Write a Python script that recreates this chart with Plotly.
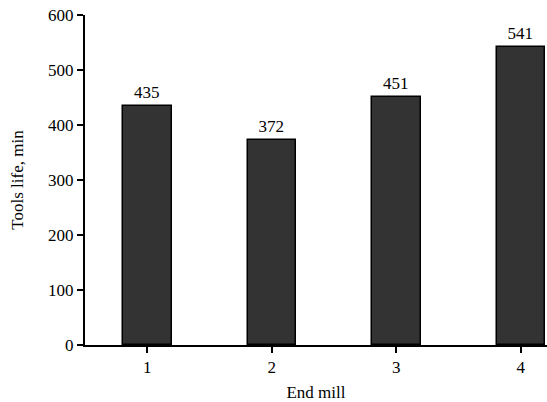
import plotly.graph_objects as go

categories = [1, 2, 3, 4]
tool_life = [435, 372, 451, 541]
value_labels = ["435", "372", "451", "541"]

FONT = "Liberation Serif, Times New Roman, serif"

fig = go.Figure()
fig.add_trace(go.Bar(
    x=categories, y=tool_life, width=0.39,
    marker=dict(color="#333333", line=dict(color="black", width=1.5)),
    text=value_labels, textposition="outside", cliponaxis=False,
    textfont=dict(family=FONT, size=17, color="black"),
))
fig.update_layout(
    width=547, height=402,
    margin=dict(l=85, r=0, t=15, b=57),
    paper_bgcolor="white", plot_bgcolor="white",
    font=dict(family=FONT, size=17, color="black"),
    showlegend=False, bargap=0,
)
fig.update_xaxes(
    range=[0.5, 4.21], tickvals=categories, ticktext=[str(c) for c in categories],
    tickfont=dict(family=FONT, size=17, color="black"),
    showline=True, linecolor="black", linewidth=2, ticks="outside", ticklen=6,
    tickwidth=2, tickcolor="black", showgrid=False, zeroline=False,
    title=dict(text="End mill", standoff=10, font=dict(family=FONT, size=17)),
)
fig.update_yaxes(
    range=[0, 600], tickvals=[0, 100, 200, 300, 400, 500, 600],
    tickfont=dict(family=FONT, size=17, color="black"),
    showline=True, linecolor="black", linewidth=2, ticks="outside", ticklen=6,
    tickwidth=2, tickcolor="black", showgrid=False, zeroline=False,
    title=dict(text="Tools life, min", standoff=20, font=dict(family=FONT, size=17)),
)
fig.write_html("out.html", config={"displayModeBar": False},
               post_script="document.body.style.margin='0';document.body.style.overflow='hidden';")
